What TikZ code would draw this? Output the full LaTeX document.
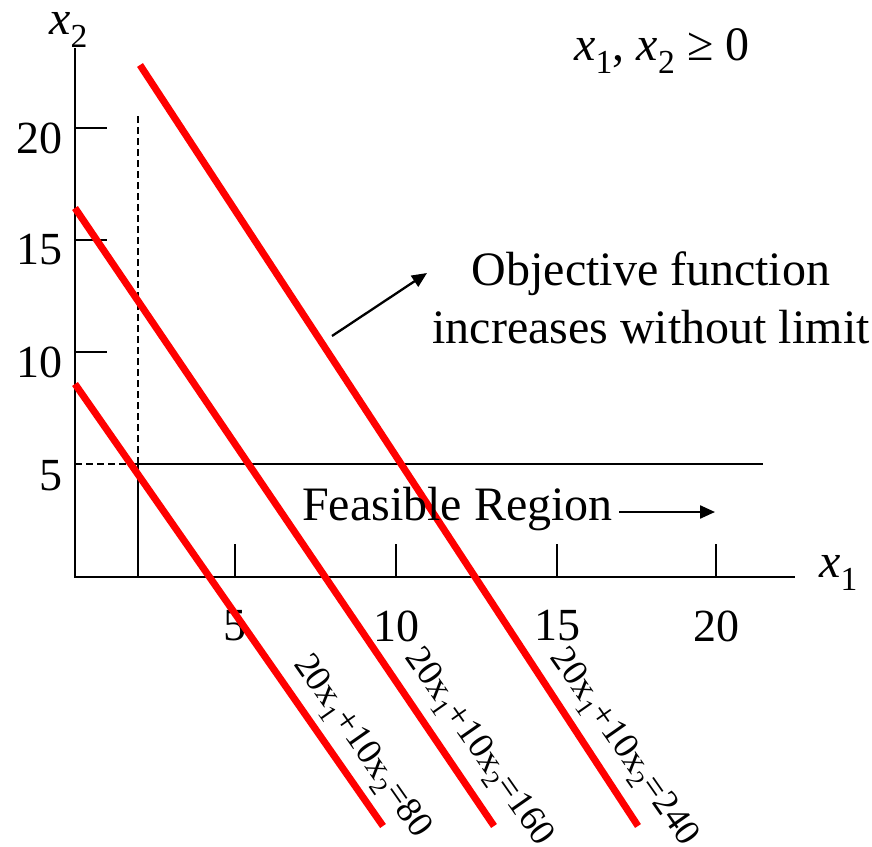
\documentclass[tikz,border=0pt]{standalone}
\usepackage{fontspec}
\setmainfont{Liberation Serif}
\usetikzlibrary{arrows.meta}
\definecolor{lpred}{RGB}{255,0,0}
\begin{document}
\begin{tikzpicture}[x=1pt,y=-1pt,
  axis/.style={line width=2.3pt},
  dashline/.style={line width=2pt, dash pattern=on 7pt off 4pt},
  redline/.style={draw=lpred, line width=7pt},
  big/.style={font=\fontsize{48}{53}\selectfont, inner sep=0pt},
  ticklbl/.style={font=\fontsize{46}{52}\selectfont, inner sep=0pt},
  eqlabel/.style={font=\fontsize{36.5}{40}\selectfont, inner sep=0pt},
  arr/.style={line width=2.3pt, -{Triangle[length=15pt,width=13pt]}}
]
\useasboundingbox (0,0) rectangle (872,846);

% axes
\coordinate (O) at (75,577);
\coordinate (xend) at (795,577);
\coordinate (yend) at (75,48);
\draw[axis] (yend) -- (O) -- (xend);

% y ticks
\foreach \y/\lbl in {128/20,240/15,352/10}{
  \coordinate (yt\lbl) at (75,\y);
  \coordinate (ytt\lbl) at (107,\y);
  \draw[axis] (yt\lbl) -- (ytt\lbl);
  \node[ticklbl, anchor=east] (yl\lbl) at (63,\y+10) {\lbl};
}
\node[ticklbl, anchor=east] (yl5) at (63,476) {5};

% x ticks
\foreach \x/\lbl in {235/5,396/10,557/15,716/20}{
  \coordinate (xt\lbl) at (\x,577);
  \coordinate (xtt\lbl) at (\x,544);
  \draw[axis] (xt\lbl) -- (xtt\lbl);
  \node[ticklbl] (xl\lbl) at (\x,626) {\lbl};
}

% constraint lines
\coordinate (h0) at (75,464);
\coordinate (h1) at (138,464);
\coordinate (h2) at (763,464);
\draw[dashline] (h0) -- (h1);
\draw[axis] (h1) -- (h2);
\coordinate (v0) at (138,577);
\coordinate (v1) at (138,113);
\draw[axis] (v0) -- (h1);
\draw[dashline] (h1) -- (v1);

% objective lines
\coordinate (a1) at (75,384);  \coordinate (b1) at (383,826);
\coordinate (a2) at (75,208);  \coordinate (b2) at (494,826);
\coordinate (a3) at (140,65);  \coordinate (b3) at (638,826);
\draw[redline] (a1) -- (b1);
\draw[redline] (a2) -- (b2);
\draw[redline] (a3) -- (b3);

\node[eqlabel, rotate=-55] (e1) at (361,747) {20x\textsubscript{1}+10x\textsubscript{2}=80};
\node[eqlabel, rotate=-55] (e2) at (478,748) {20x\textsubscript{1}+10x\textsubscript{2}=160};
\node[eqlabel, rotate=-55] (e3) at (623,748) {20x\textsubscript{1}+10x\textsubscript{2}=240};

% axis labels
\node[big, anchor=base west] (x2lbl) at (49,34) {\textit{x}\textsubscript{2}};
\node[big, anchor=base west] (x1lbl) at (819,577) {\textit{x}\textsubscript{1}};
\node[big, anchor=base west] (nonneg) at (574,60) {\textit{x}\textsubscript{1}, \textit{x}\textsubscript{2} ≥ 0};

% objective text
\node[big, anchor=base] (obj1) at (651,285) {Objective function};
\node[big, anchor=base] (obj2) at (651,343) {increases without limit};
\coordinate (oa) at (332,336);
\coordinate (ob) at (427,273);
\draw[arr] (oa) -- (ob);

% feasible region
\node[big, anchor=base west] (feas) at (302,520) {Feasible Region};
\coordinate (fa) at (619,512);
\coordinate (fb) at (715,512);
\draw[arr] (fa) -- (fb);
\end{tikzpicture}
\end{document}
